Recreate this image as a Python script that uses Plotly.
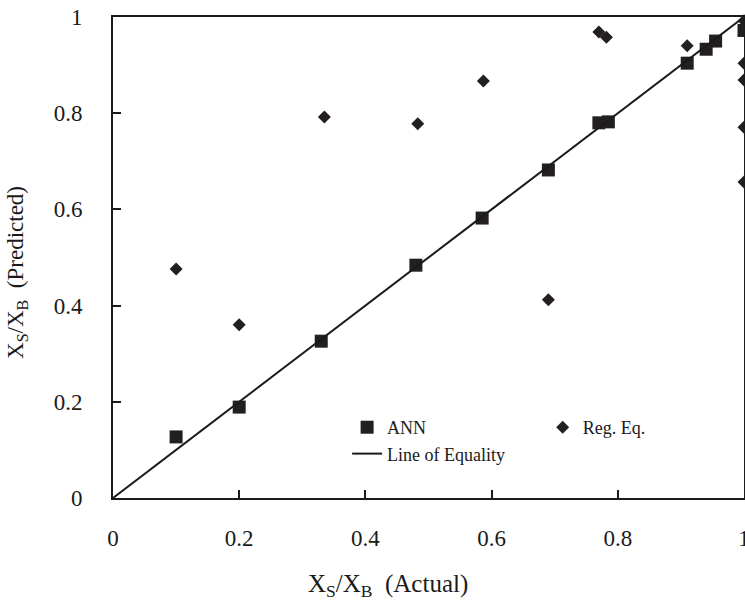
import plotly.graph_objects as go

ann_x = [0.10, 0.20, 0.33, 0.48, 0.585, 0.69, 0.77, 0.785, 0.91, 0.94, 0.955, 1.0]
ann_y = [0.127, 0.189, 0.326, 0.484, 0.582, 0.682, 0.780, 0.782, 0.904, 0.933, 0.950, 0.972]

reg_x = [0.10, 0.20, 0.335, 0.483, 0.587, 0.69, 0.77, 0.782, 0.91, 1.0, 1.0, 1.0, 1.0, 1.0]
reg_y = [0.476, 0.360, 0.792, 0.778, 0.867, 0.412, 0.969, 0.958, 0.940, 0.992, 0.904, 0.869, 0.771, 0.657]

eq_x = [0, 1]
eq_y = [0, 1]

tick_vals = [0, 0.2, 0.4, 0.6, 0.8, 1]
tick_text = ["0", "0.2", "0.4", "0.6", "0.8", "1"]

x_title = "X<sub>S</sub>/X<sub>B</sub>  (Actual)"
y_title = "X<sub>S</sub>/X<sub>B</sub>  (Predicted)"

font = "Liberation Serif"
ink = "#1a1a1a"

fig = go.Figure()
fig.add_trace(go.Scatter(x=ann_x, y=ann_y, mode="markers", name="ANN",
                         marker=dict(symbol="square", size=13, color="#231f1f"),
                         legend="legend", cliponaxis=False))
fig.add_trace(go.Scatter(x=eq_x, y=eq_y, mode="lines", name="Line of Equality",
                         line=dict(color=ink, width=2),
                         legend="legend"))
fig.add_trace(go.Scatter(x=reg_x, y=reg_y, mode="markers", name="Reg. Eq.",
                         marker=dict(symbol="diamond", size=10, color="#231f1f"),
                         legend="legend2", cliponaxis=False))

axis_common = dict(
    tickvals=tick_vals, ticktext=tick_text, range=[0, 1], automargin=False,
    showgrid=False, zeroline=False, showline=True, linecolor=ink, linewidth=2,
    mirror=True, ticks="inside", ticklen=8, tickwidth=1.5, tickcolor=ink,
    ticklabeloverflow="allow",
    tickfont=dict(family=font, size=23, color=ink),
)

fig.update_xaxes(**axis_common, ticklabelstandoff=18)
fig.update_yaxes(**axis_common, ticklabelstandoff=24)

fig.add_annotation(text=x_title, xref="paper", yref="paper", x=0.436, y=-0.181,
                   xanchor="center", yanchor="middle", showarrow=False,
                   font=dict(family=font, size=25, color=ink))
fig.add_annotation(text=y_title, xref="paper", yref="paper", x=-0.152, y=0.468,
                   xanchor="center", yanchor="middle", showarrow=False, textangle=-90,
                   font=dict(family=font, size=23, color=ink))

fig.update_layout(
    width=745, height=602,
    margin=dict(l=113, r=1, t=17, b=104),
    paper_bgcolor="white", plot_bgcolor="white",
    showlegend=True,
    legend=dict(x=0.371, y=0.185, xanchor="left", yanchor="top",
                bgcolor="rgba(0,0,0,0)", font=dict(family=font, size=18, color=ink),
                tracegroupgap=0, itemwidth=30),
    legend2=dict(x=0.681, y=0.185, xanchor="left", yanchor="top",
                 bgcolor="rgba(0,0,0,0)", font=dict(family=font, size=18, color=ink),
                 itemwidth=30),
)

fig.write_html("out.html", config={"displayModeBar": False},
               post_script="document.body.style.margin='0';document.body.style.overflow='hidden';")
